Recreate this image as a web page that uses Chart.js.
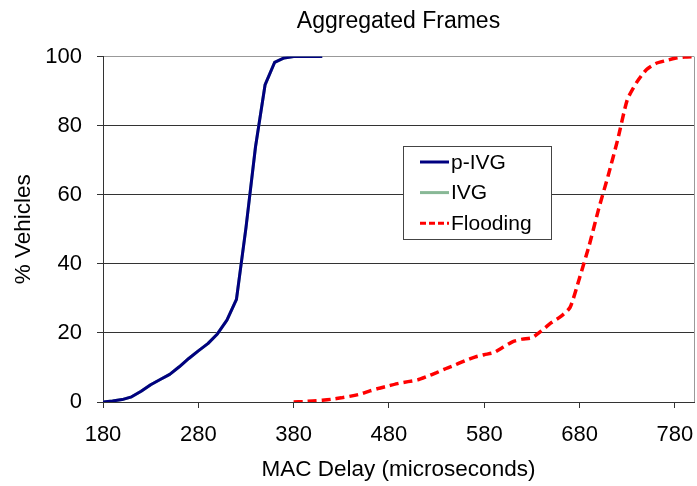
<!DOCTYPE html>
<html>
<head>
<meta charset="utf-8">
<script src="https://cdn.jsdelivr.net/npm/chart.js@4.4.1/dist/chart.umd.min.js"></script>
<style>
  html, body { margin: 0; padding: 0; background: #fff; }
  #wrap { width: 697px; height: 486px; }
</style>
</head>
<body>
<div id="wrap"><canvas id="chart"></canvas></div>
<script>
// tick labels
const xTicks = [180, 280, 380, 480, 580, 680, 780];
const yTicks = [0, 20, 40, 60, 80, 100];

// p-IVG
const pIvgDelay = [180, 190, 200, 210, 220, 230, 240, 250, 260, 270, 280, 290,
                   300, 310, 320, 330, 340, 350, 360, 370, 380, 390, 400, 410];
const pIvgPct   = [0, 0.3, 0.7, 1.5, 3.1, 5.0, 6.5, 8.0, 10.2, 12.6, 14.8, 16.9,
                   19.7, 23.7, 29.7, 50.5, 73.9, 91.8, 98.3, 99.6, 100, 100, 100, 100];

// IVG (hidden under p-IVG in the picture)
const ivgDelay = [180, 190, 200, 210, 220, 230, 240, 250, 260, 270, 280, 290,
                  300, 310, 320, 330, 340, 350, 360, 370, 380, 390, 400, 410];
const ivgPct   = [0, 0.3, 0.7, 1.5, 3.1, 5.0, 6.5, 8.0, 10.2, 12.6, 14.8, 16.9,
                  19.7, 23.7, 29.7, 50.5, 73.9, 91.8, 98.3, 99.6, 100, 100, 100, 100];

// Flooding (red dashed curve)
const floodDelay = [380, 390, 400, 410, 420, 430, 440, 450, 460, 470, 480, 490,
                    500, 510, 520, 530, 540, 550, 560, 570, 580, 590, 600, 610,
                    620, 630, 640, 650, 660, 670, 680, 690, 700, 710, 720, 730,
                    740, 750, 760, 770, 780, 790, 800];
const floodPct   = [0, 0.1, 0.3, 0.5, 0.8, 1.2, 1.7, 2.3, 3.2, 4.0, 4.7, 5.4,
                    5.9, 6.4, 7.4, 8.5, 9.7, 10.8, 12.0, 13.0, 13.7, 14.3, 15.9, 17.5,
                    18.2, 18.6, 20.6, 22.9, 24.7, 27.4, 36.0, 45.3, 55.9, 65.6, 76.0, 87.5,
                    92.6, 96.2, 98.0, 98.8, 99.5, 99.9, 100];

const toPoints = (xs, ys) => xs.map((x, i) => ({ x: x, y: ys[i] }));

const FONT = '"Liberation Sans", Arial, sans-serif';

// right frame line + boxed legend inside the plot
const frameAndLegend = {
  id: 'frameAndLegend',
  afterDatasetsDraw(chart) {
    const ctx = chart.ctx;
    const a = chart.chartArea;
    ctx.save();
    ctx.strokeStyle = '#999';
    ctx.lineWidth = 1;
    ctx.beginPath();
    ctx.moveTo(Math.round(a.right) + 0.5, a.top);
    ctx.lineTo(Math.round(a.right) + 0.5, a.bottom);
    ctx.stroke();

    const bx = Math.round(a.left + 300), by = Math.round(a.top + 89), bw = 148, bh = 93;
    ctx.fillStyle = '#fff';
    ctx.fillRect(bx, by, bw, bh);
    ctx.strokeStyle = '#444';
    ctx.strokeRect(bx + 0.5, by + 0.5, bw, bh);

    ctx.font = '21px ' + FONT;
    ctx.textBaseline = 'middle';
    ctx.textAlign = 'left';
    chart.data.datasets.forEach((ds, i) => {
      const y = by + 16 + i * 30.6;
      ctx.strokeStyle = ds.borderColor;
      ctx.lineWidth = 3;
      ctx.setLineDash(ds.legendDash || []);
      ctx.beginPath();
      ctx.moveTo(bx + 17, y);
      ctx.lineTo(bx + 46, y);
      ctx.stroke();
      ctx.setLineDash([]);
      ctx.fillStyle = '#000';
      ctx.fillText(ds.label, bx + 48, y + 1);
    });
    ctx.restore();
  }
};

new Chart(document.getElementById('chart'), {
  type: 'line',
  data: {
    datasets: [
      { label: 'p-IVG', data: toPoints(pIvgDelay, pIvgPct), borderColor: '#000080',
        borderWidth: 3, pointRadius: 0, fill: false, tension: 0, borderJoinStyle: 'round' },
      { label: 'IVG', data: toPoints(ivgDelay, ivgPct), borderColor: '#88b896',
        borderWidth: 3, pointRadius: 0, fill: false, tension: 0, borderJoinStyle: 'round' },
      { label: 'Flooding', data: toPoints(floodDelay, floodPct), borderColor: '#ff0000',
        borderWidth: 3.5, borderDash: [9, 5], legendDash: [6, 3], pointRadius: 0, fill: false,
        tension: 0.2 }
    ]
  },
  options: {
    responsive: true,
    maintainAspectRatio: false,
    animation: false,
    layout: { padding: { left: 0, right: 3, top: 0, bottom: 0 } },
    plugins: {
      legend: { display: false },
      tooltip: { enabled: false },
      title: {
        display: true,
        text: 'Aggregated Frames',
        fullSize: false,
        color: '#000',
        font: { family: FONT, size: 23, weight: 'normal' },
        padding: { top: 8, bottom: 21 }
      }
    },
    scales: {
      x: {
        type: 'linear',
        min: 180,
        max: 800,
        afterBuildTicks: s => { s.ticks = xTicks.map(v => ({ value: v })); },
        afterFit: s => { s.height = 84; s.paddingLeft = 0; s.paddingRight = 0; },
        ticks: { autoSkip: false, maxRotation: 0, padding: 14, color: '#000',
                 font: { family: FONT, size: 22 } },
        grid: { drawOnChartArea: false, tickLength: 6, color: '#333' },
        border: { color: '#333', width: 1 },
        title: { display: true, text: 'MAC Delay (microseconds)', color: '#000',
                 font: { family: FONT, size: 22.5 }, padding: { top: 0, bottom: 3 } }
      },
      y: {
        min: 0,
        max: 100,
        afterBuildTicks: s => { s.ticks = yTicks.map(v => ({ value: v })); },
        afterFit: s => { s.width = 103; },
        ticks: { padding: 15, color: '#000', font: { family: FONT, size: 22 } },
        grid: { color: c => (c.tick && c.tick.value === 100 ? '#999' : '#333'),
                tickColor: '#333', tickLength: 6 },
        border: { color: '#333', width: 1 },
        title: { display: true, text: '% Vehicles', color: '#000',
                 font: { family: FONT, size: 22.5 }, padding: { top: 10, bottom: 0 } }
      }
    }
  },
  plugins: [frameAndLegend]
});
</script>
</body>
</html>
